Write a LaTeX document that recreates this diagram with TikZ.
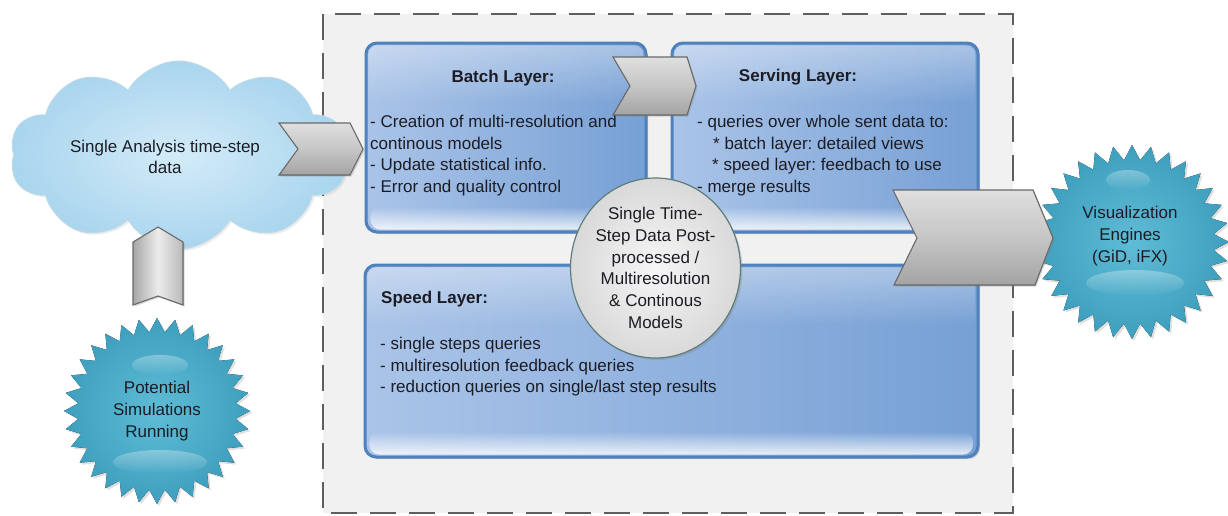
\documentclass[tikz,border=0pt]{standalone}
\usepackage{fontspec}
\setmainfont{Liberation Sans}
\usetikzlibrary{shapes.symbols,shapes.geometric,fadings,shadows,calc}
\frenchspacing

\definecolor{panel}{HTML}{F1F1F1}
\definecolor{dashgray}{HTML}{5F5F5F}
\definecolor{boxedge}{HTML}{4F81BD}
\definecolor{boxl}{HTML}{AAC4E8}
\definecolor{boxr}{HTML}{77A0D5}
\definecolor{cloudin}{HTML}{D3EBF8}
\definecolor{cloudout}{HTML}{A9D5EE}
\definecolor{cloudedge}{HTML}{BCD9E8}
\definecolor{burstin}{HTML}{5FBCD6}
\definecolor{burstout}{HTML}{3E9FBE}
\definecolor{circin}{HTML}{F6F6F6}
\definecolor{circout}{HTML}{D9D9D9}
\definecolor{circedge}{HTML}{5E7D7A}
\definecolor{chevedge}{HTML}{6A6A6A}
\definecolor{txt}{HTML}{1C1C24}

\tikzfading[name=glossup, top color=transparent!100, bottom color=transparent!10]
\tikzfading[name=glossdown, top color=transparent!10, bottom color=transparent!100]

\tikzset{
  base/.style={text=txt, inner sep=0pt},
  body/.style={base, font=\fontsize{17}{21.7}\selectfont, align=left, anchor=north west},
  title/.style={base, font=\fontsize{17}{21.7}\selectfont\bfseries},
  centred/.style={base, font=\fontsize{17}{21.7}\selectfont, align=center},
  layerbox/.style={draw=boxedge, line width=3pt, rounded corners=11pt,
    left color=boxl, right color=boxr, inner sep=0pt,
    drop shadow={opacity=.3, shadow xshift=2pt, shadow yshift=-2pt}},
  chev/.style={draw=chevedge, line width=1.1pt, top color=gray!25,
    bottom color=gray!72, middle color=gray!45,
    drop shadow={opacity=.3, shadow xshift=1.5pt, shadow yshift=-1.5pt}},
  upchev/.style={draw=chevedge, line width=1.1pt, left color=gray!70,
    right color=gray!55, middle color=gray!15,
    drop shadow={opacity=.3, shadow xshift=1.5pt, shadow yshift=-1.5pt}},
  burstfill/.style={inner color=burstin, outer color=burstout,
    drop shadow={opacity=.25, shadow xshift=2pt, shadow yshift=-2pt}},
  shine/.style={white, opacity=.35, path fading=glossdown},
}

% glossy bands inside a layer box
\newcommand\glossify[1]{%
  \fill[white, opacity=.9, path fading=glossup, rounded corners=10pt]
    ($(#1.south west)+(6,-27)$) rectangle ($(#1.south east)+(-6,-4)$);
  \fill[white, opacity=.4, path fading=glossdown, rounded corners=9pt]
    ($(#1.north west)+(4,4)$) rectangle ($(#1.north east)+(-4,62)$);
}

% spiky seal drawn round a named centre: name, outer radius, inner radius
\newcommand\seal[3]{%
  \fill[burstfill] ($(#1)+(0:#2)$)
    \foreach \k in {1,...,63}{ -- ($(#1)+({\k*5.625}:{mod(\k,2)==1 ? #3 : #2})$) } -- cycle;
}

\begin{document}
\begin{tikzpicture}[x=1pt,y=-1pt]
\useasboundingbox (0,0) rectangle (1228,515);

% dashed processing panel
\draw[dashgray, line width=2.5pt, dash pattern=on 26pt off 13pt, fill=panel]
  (323,14) rectangle (1013,513);

% the three layers
\node[layerbox, minimum width=280pt, minimum height=189pt] (batch) at (506,137.5) {};
\node[layerbox, minimum width=306pt, minimum height=189pt] (serving) at (825,137.5) {};
\node[layerbox, minimum width=613pt, minimum height=192pt] (speed) at (671.5,361) {};
\glossify{batch}
\glossify{serving}
\glossify{speed}

\node[title] (batchtitle) at (503,78) {Batch Layer:};
\node[body] (batchtxt) at (370,115) {- Creation of multi-resolution and\\continous models\\- Update statistical info.\\- Error and quality control};

\node[title] (servtitle) at (798,77) {Serving Layer:};
\node[body] (servtxt) at (697,115) {- queries over whole sent data to:\\\hspace*{16pt}* batch layer: detailed views\\\hspace*{15pt}* speed layer: feedbach to use\\- merge results};

\node[title, anchor=west] (speedtitle) at (381,299) {Speed Layer:};
\node[body] (speedtxt) at (380,337) {- single steps queries\\- multiresolution feedback queries\\- reduction queries on single/last step results};

% central data store
\node[ellipse, draw=circedge, line width=1.2pt, inner color=circin, outer color=circout,
  minimum width=170pt, minimum height=180pt, inner sep=0pt,
  drop shadow={opacity=.3, shadow xshift=2pt, shadow yshift=-2pt}] (store) at (655.5,268) {};
\node[centred] (storetxt) at (655.5,268) {Single Time-\\Step Data Post-\\processed /\\Multiresolution\\\& Continous\\Models};

% input cloud
\node[cloud, cloud puffs=10, cloud puff arc=120, aspect=1.8, draw=cloudedge, line width=1pt,
  inner color=cloudin, outer color=cloudout, minimum width=338pt, minimum height=188pt,
  drop shadow={opacity=.15, shadow xshift=2pt, shadow yshift=-2pt}] (cloud) at (179,155) {};
\node[centred] (cloudtxt) at (165,157) {Single Analysis time-step\\data};

% simulations seal
\coordinate (sim) at (157,411);
\seal{sim}{93}{79}
\fill[shine] ($(sim)+(3,-46)$) ellipse [x radius=28, y radius=10];
\fill[shine] ($(sim)+(3,51)$) ellipse [x radius=47, y radius=12];
\node[centred] (simtxt) at (sim) {Potential\\Simulations\\Running};

% visualization seal
\coordinate (vis) at (1132,242);
\seal{vis}{97}{82}
\fill[shine] ($(vis)+(-4,-62)$) ellipse [x radius=22, y radius=10];
\fill[shine] ($(vis)+(3,41)$) ellipse [x radius=49, y radius=13];
\node[centred] (vistxt) at (1130,236) {Visualization\\Engines\\(GiD, iFX)};

% block arrows between the parts
\filldraw[upchev] (133,242) -- (158,227) -- (183,242) -- (183,305) -- (158,296) -- (133,305) -- cycle;
\filldraw[chev] (279,123) -- (350,123) -- (363,149) -- (350,175) -- (279,175) -- (298,149) -- cycle;
\filldraw[chev] (613,57) -- (687,57) -- (696,86) -- (687,115) -- (613,115) -- (630,86) -- cycle;
\filldraw[chev] (893,190) -- (1033,190) -- (1053,238) -- (1035,285) -- (894,285) -- (917,238) -- cycle;
\end{tikzpicture}
\end{document}
